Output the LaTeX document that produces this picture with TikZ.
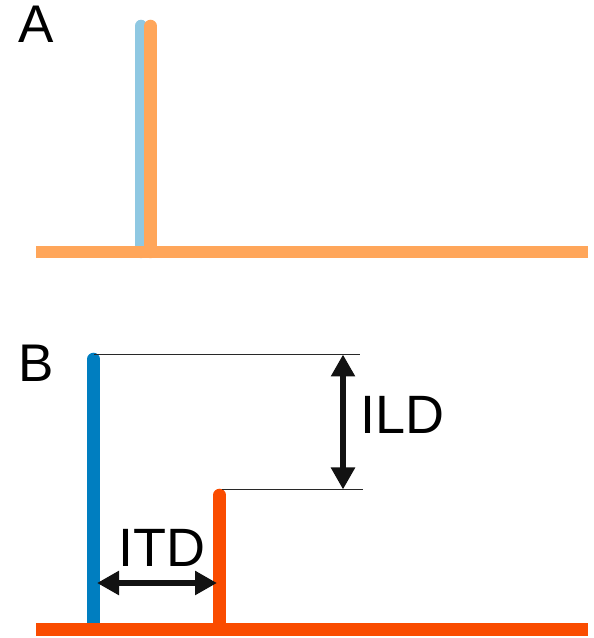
\documentclass[tikz,border=0pt]{standalone}
\usepackage{fontspec}
\setmainfont{Liberation Sans}
\usetikzlibrary{arrows.meta}
\definecolor{paleblue}{RGB}{143,200,226}
\definecolor{paleorange}{RGB}{255,166,90}
\definecolor{deepblue}{RGB}{0,126,192}
\definecolor{redorange}{RGB}{250,76,0}
\definecolor{guide}{RGB}{40,40,40}
\tikzset{
  x=1pt, y=1pt,
  spike/.style={line width=12.5pt, line cap=round},
  base line/.style={line width=12.5pt},
  guideline/.style={guide, line width=1pt},
  measure/.style={line width=5.5pt, draw=black!93,
    {Triangle[length=22pt,width=23pt]}-{Triangle[length=22pt,width=23pt]}},
  panel/.style={font=\fontsize{53}{53}\selectfont, anchor=base west, inner sep=0pt},
  tag/.style={font=\fontsize{54}{54}\selectfont, anchor=base west, inner sep=0pt}
}
\begin{document}
\begin{tikzpicture}
\useasboundingbox (0,0) rectangle (594,638);

% ---- panel A: two coincident pulses ----
\node[panel] (labA) at (18,595) {A};
\coordinate (a1top) at (141,612);
\coordinate (a1bot) at (141,386);
\coordinate (a2top) at (150.5,612);
\coordinate (a2bot) at (150.5,386);
\coordinate (aL) at (36,386);
\coordinate (aR) at (588,386);
\draw[spike, paleblue] (a1bot) -- (a1top);
\draw[spike, paleorange] (a2bot) -- (a2top);
\draw[base line, paleorange] (aL) -- (aR);

% ---- panel B: delayed, attenuated pulse ----
\node[panel] (labB) at (18,256) {B};
\coordinate (b1top) at (93.5,279);
\coordinate (b1bot) at (93.5,8.5);
\coordinate (b2top) at (219.5,143);
\coordinate (b2bot) at (219.5,8.5);
\coordinate (bL) at (36,8.5);
\coordinate (bR) at (588,8.5);
\draw[spike, deepblue] (b1bot) -- (b1top);
\draw[spike, redorange] (b2bot) -- (b2top);
\draw[base line, redorange] (bL) -- (bR);

% level guides
\coordinate (g1s) at (94,283.5);
\coordinate (g1) at (360,283.5);
\coordinate (g2s) at (222,148.5);
\coordinate (g2) at (363,148.5);
\draw[guideline] (g1s) -- (g1);
\draw[guideline] (g2s) -- (g2);

% level difference
\coordinate (ildtop) at (343,283.5);
\coordinate (ildbot) at (343,148.5);
\draw[measure] (ildtop) -- (ildbot);
\node[tag] (ild) at (360,204) {ILD};

% time difference
\coordinate (itdl) at (97,55);
\coordinate (itdr) at (217,55);
\draw[measure] (itdl) -- (itdr);
\node[tag] (itd) at (118,71) {ITD};
\end{tikzpicture}
\end{document}
